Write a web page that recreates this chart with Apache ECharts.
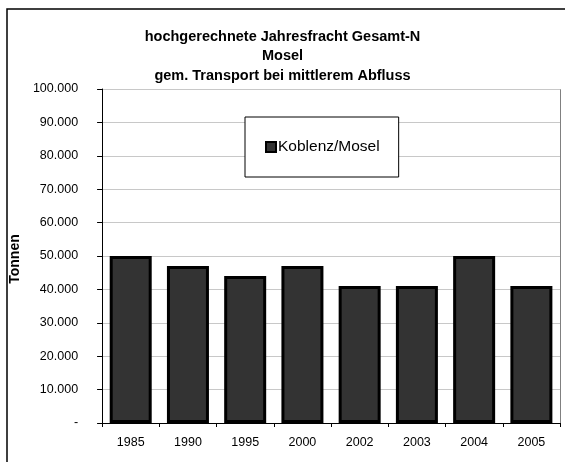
<!DOCTYPE html>
<html>
<head>
<meta charset="utf-8">
<script src="https://cdn.jsdelivr.net/npm/echarts@6/dist/echarts.min.js"></script>
<style>
  html, body { margin: 0; padding: 0; background: #fff; }
  #chart { width: 565px; height: 462px; }
</style>
</head>
<body>
<div id="chart"></div>
<script>
// Jahresfracht Gesamt-N, Koblenz/Mosel
const years = ['1985', '1990', '1995', '2000', '2002', '2003', '2004', '2005'];
const koblenz = [50000, 47000, 44000, 47000, 41000, 41000, 50000, 41000];
const titleLines = [
  'hochgerechnete Jahresfracht Gesamt-N',
  'Mosel',
  'gem. Transport bei mittlerem Abfluss'
];

const chart = echarts.init(document.getElementById('chart'));

function fmtTonnen(v) {
  if (v === 0) return '-';
  return String(v).replace(/\B(?=(\d{3})+(?!\d))/g, '.');
}

chart.setOption({
  animation: false,
  textStyle: { fontFamily: 'Liberation Sans, Arial, sans-serif', color: '#000' },
  graphic: [{
    type: 'rect',
    shape: { x: 7, y: 9, width: 620, height: 520 },
    style: { fill: 'none', stroke: '#000', lineWidth: 1.5 },
    silent: true,
    z: -1
  }, {
    // graue Rahmenlinien oben und rechts am Plotbereich
    type: 'polyline',
    shape: { points: [[101, 89.5], [560.5, 89.5], [560.5, 423]] },
    style: { fill: 'none', stroke: '#808080', lineWidth: 1 },
    silent: true
  }],
  title: {
    text: titleLines.join('\n'),
    left: 'center',
    top: 22,
    textStyle: { fontSize: 14.5, fontWeight: 'bold', lineHeight: 19.5, color: '#000' }
  },
  legend: {
    left: 245,
    top: 117,
    padding: [22, 19, 22, 20],
    borderColor: '#000',
    borderWidth: 1,
    backgroundColor: '#fff',
    icon: 'rect',
    itemWidth: 10,
    itemHeight: 10,
    itemGap: 5,
    textStyle: { fontSize: 15.5, color: '#000', padding: [0, 0, 0, -3] },
    data: ['Koblenz/Mosel']
  },
  grid: { left: 101, right: 5, top: 89, bottom: 39, containLabel: false },
  xAxis: {
    type: 'category',
    data: years,
    axisLine: { lineStyle: { color: '#000', width: 1 } },
    axisTick: { show: true, length: 4, lineStyle: { color: '#000' } },
    axisLabel: { fontSize: 12.5, color: '#000', margin: 13 }
  },
  yAxis: {
    type: 'value',
    min: 0,
    max: 100000,
    interval: 10000,
    name: 'Tonnen',
    nameLocation: 'middle',
    nameGap: 76,
    nameRotate: 90,
    nameTextStyle: { fontSize: 14, fontWeight: 'bold', color: '#000', padding: [0, 6, 0, 0] },
    axisLine: { show: true, lineStyle: { color: '#000', width: 1 } },
    axisTick: { show: true, length: 5, lineStyle: { color: '#000' } },
    axisLabel: { fontSize: 12.5, color: '#000', margin: 24, formatter: fmtTonnen },
    splitLine: { lineStyle: { color: '#c8c8c8', width: 1 } }
  },
  series: [{
    name: 'Koblenz/Mosel',
    type: 'bar',
    data: koblenz,
    barWidth: 42,
    itemStyle: { color: '#333333', borderColor: '#000', borderWidth: 3 }
  }]
});
</script>
</body>
</html>
